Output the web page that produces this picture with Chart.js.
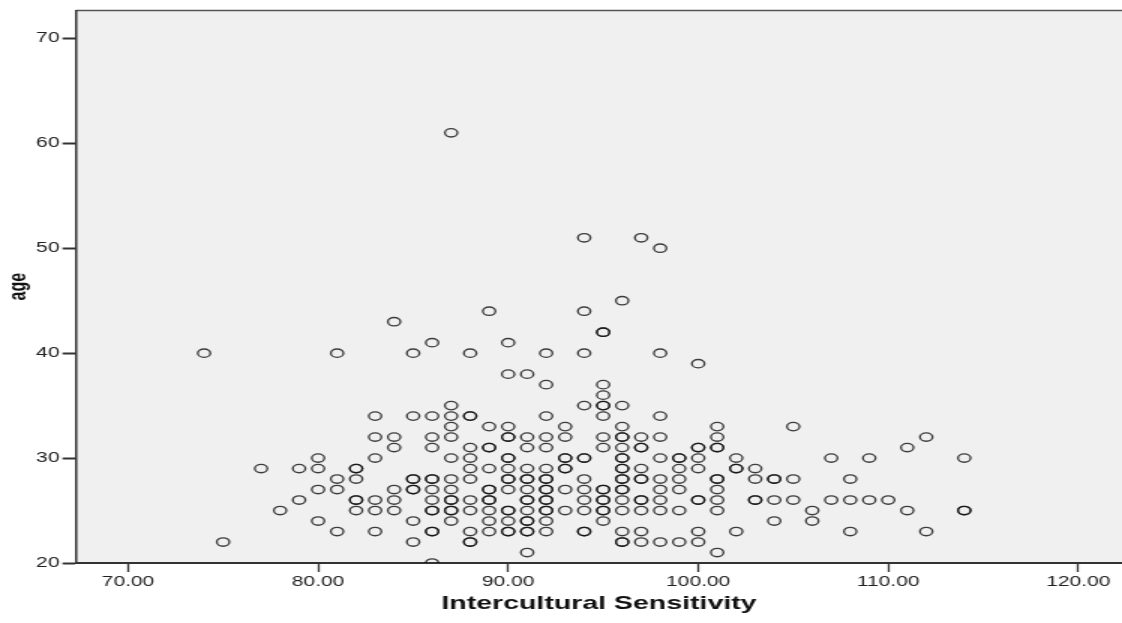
<!DOCTYPE html>
<html lang="en">
<head>
    <meta charset="UTF-8">
    <title>Age vs Intercultural Sensitivity</title>
    <script src="https://cdn.jsdelivr.net/npm/chart.js"></script>
    <style>
        body { margin: 0; background: #fff; }
        #scatter { display: block; }
    </style>
</head>
<body>
    <!-- the source picture is stretched sideways, so the canvas is drawn at 748 wide and shown at 1122 -->
    <canvas id="scatter" width="748" height="623" style="width:1122px;height:623px"></canvas>

    <script>
        // Intercultural Sensitivity scores that have at least one case
        const scoreLevels = [74, 75, 77, 78, 79, 80, 81, 82, 83, 84, 85, 86, 87, 88, 89, 90, 91, 92, 93,
            94, 95, 96, 97, 98, 99, 100, 101, 102, 103, 104, 105, 106, 107, 108, 109, 110, 111, 112, 114];

        // ages observed at each score (repeated values = overlapping cases)
        const agesAtScore = [
            [40],
            [22],
            [29],
            [25],
            [29, 26],
            [30, 29, 27, 24],
            [40, 28, 27, 23],
            [29, 29, 28, 26, 26, 25],
            [34, 32, 30, 26, 25, 23],
            [43, 32, 31, 27, 26, 25],
            [40, 34, 28, 28, 27, 27, 24, 22],
            [41, 34, 32, 31, 28, 28, 27, 26, 25, 25, 23, 23, 20],
            [61, 35, 34, 33, 32, 30, 28, 27, 26, 26, 25, 25, 24],
            [40, 34, 34, 31, 30, 29, 28, 26, 25, 23, 22, 22],
            [44, 33, 31, 31, 29, 27, 27, 26, 26, 25, 24, 23],
            [41, 38, 33, 32, 32, 30, 30, 29, 28, 28, 27, 25, 25, 24, 23, 23],
            [38, 32, 31, 29, 28, 28, 27, 26, 26, 25, 24, 24, 23, 23, 21],
            [40, 37, 34, 32, 31, 29, 28, 28, 27, 27, 26, 26, 25, 25, 24, 23],
            [33, 32, 30, 30, 29, 29, 27, 25],
            [51, 44, 40, 35, 30, 30, 28, 27, 26, 25, 23, 23],
            [42, 42, 37, 36, 35, 35, 34, 32, 31, 27, 27, 26, 26, 25, 25, 24],
            [45, 35, 33, 32, 32, 31, 30, 30, 29, 29, 28, 28, 27, 27, 26, 25, 23, 22, 22],
            [51, 32, 31, 31, 29, 28, 28, 26, 26, 25, 23, 22],
            [50, 40, 34, 32, 30, 28, 27, 26, 25, 22],
            [30, 30, 29, 28, 27, 25, 22],
            [39, 31, 31, 30, 29, 26, 26, 23, 22],
            [33, 32, 31, 31, 28, 28, 27, 26, 25, 21],
            [30, 29, 29, 23],
            [29, 28, 26, 26],
            [28, 28, 26, 24],
            [33, 28, 26],
            [25, 24],
            [30, 26],
            [28, 26, 23],
            [30, 26],
            [26],
            [31, 25],
            [32, 23],
            [30, 25, 25]
        ];

        const xTicks = [70, 80, 90, 100, 110, 120];
        const yTicks = [20, 30, 40, 50, 60, 70];

        const fontFamily = "'Liberation Sans', Arial, sans-serif";

        const points = [];
        scoreLevels.forEach((score, i) => {
            agesAtScore[i].forEach(a => points.push({ x: score, y: a }));
        });

        // grey plot area plus the thin frame line on top
        const plotBackground = {
            id: 'plotBackground',
            beforeDraw(chart) {
                const { ctx, chartArea: a } = chart;
                ctx.save();
                ctx.fillStyle = '#f0f0f0';
                ctx.fillRect(a.left, a.top, a.right - a.left, a.bottom - a.top);
                ctx.strokeStyle = '#555';
                ctx.lineWidth = 1.5;
                ctx.beginPath();
                ctx.moveTo(a.left, a.top);
                ctx.lineTo(a.right, a.top);
                ctx.stroke();
                ctx.restore();
            }
        };

        const ctx = document.getElementById('scatter').getContext('2d');

        new Chart(ctx, {
            type: 'scatter',
            data: {
                datasets: [{
                    label: 'age',
                    data: points,
                    pointStyle: 'circle',
                    pointRadius: 4.2,
                    pointBorderWidth: 1.35,
                    borderColor: 'rgba(15, 15, 15, 0.8)',
                    backgroundColor: 'rgba(0, 0, 0, 0)',
                    clip: 0
                }]
            },
            options: {
                responsive: false,
                animation: false,
                layout: { autoPadding: false, padding: { top: 10, right: 0, bottom: 0, left: 0 } },
                plugins: {
                    legend: { display: false },
                    tooltip: { enabled: false }
                },
                scales: {
                    x: {
                        type: 'linear',
                        min: 67.26,
                        max: 122.3,
                        afterBuildTicks: s => { s.ticks = xTicks.map(v => ({ value: v })); },
                        afterFit: s => {
                            s.height = 60;
                            s.paddingLeft = 0;
                            s.paddingRight = 0;
                        },
                        ticks: {
                            callback: v => Number(v).toFixed(2),
                            font: { family: fontFamily, size: 14 },
                            color: '#222',
                            padding: 2,
                            maxRotation: 0,
                            autoSkip: false
                        },
                        grid: {
                            drawOnChartArea: false,
                            drawTicks: true,
                            tickLength: 9,
                            tickWidth: 1.3,
                            tickColor: '#333'
                        },
                        border: { display: true, color: '#333', width: 2 },
                        title: {
                            display: true,
                            text: 'Intercultural Sensitivity',
                            font: { family: fontFamily, size: 19, weight: 'bold' },
                            color: '#111',
                            padding: { top: 0, bottom: 8 }
                        }
                    },
                    y: {
                        type: 'linear',
                        min: 20,
                        max: 72.67,
                        afterBuildTicks: s => { s.ticks = yTicks.map(v => ({ value: v })); },
                        afterFit: s => { s.width = 50.67; },
                        ticks: {
                            font: { family: fontFamily, size: 14 },
                            color: '#222',
                            padding: 2,
                            autoSkip: false
                        },
                        grid: {
                            drawOnChartArea: false,
                            drawTicks: true,
                            tickLength: 9,
                            tickWidth: 2,
                            tickColor: '#333'
                        },
                        border: { display: true, color: '#333', width: 1.5 },
                        title: {
                            display: true,
                            text: 'age',
                            font: { family: fontFamily, size: 16, weight: 'bold' },
                            color: '#111',
                            padding: { top: 2.5, bottom: 0 }
                        }
                    }
                }
            },
            plugins: [plotBackground]
        });
    </script>
</body>
</html>
